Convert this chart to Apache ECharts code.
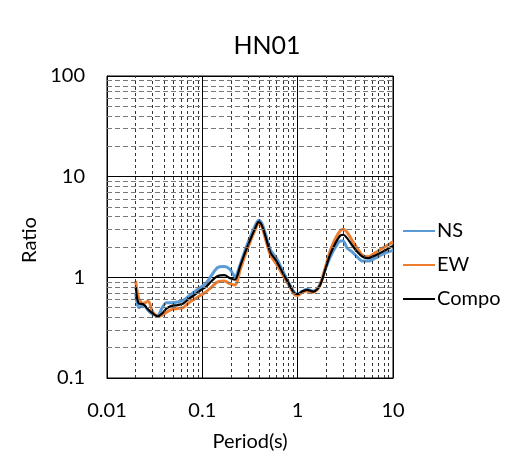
<!DOCTYPE html>
<html>
<head>
<meta charset="utf-8">
<script src="https://cdn.jsdelivr.net/npm/echarts@6/dist/echarts.min.js"></script>
<style>
  html, body { margin: 0; padding: 0; background: #fff; }
  #chart { width: 510px; height: 457px; }
</style>
</head>
<body>
<div id="chart"></div>
<script>
// periods (s) shared by the three curves
const periods = [0.020, 0.0215, 0.024, 0.027, 0.030, 0.034, 0.038, 0.042, 0.048, 0.055,
  0.063, 0.072, 0.083, 0.095, 0.11, 0.125, 0.145, 0.17, 0.195, 0.22,
  0.25, 0.28, 0.32, 0.36, 0.39, 0.42, 0.46, 0.52, 0.6, 0.7,
  0.8, 0.92, 1.0, 1.1, 1.25, 1.45, 1.7, 1.95, 2.2, 2.5,
  2.8, 3.0, 3.3, 3.7, 4.2, 4.8, 5.5, 6.5, 7.8, 10];

const nsRatio = [0.68, 0.50, 0.53, 0.47, 0.43, 0.42, 0.50, 0.56, 0.56, 0.57,
  0.59, 0.65, 0.72, 0.79, 0.88, 1.05, 1.25, 1.28, 1.20, 1.02,
  1.35, 1.85, 2.55, 3.3, 3.7, 3.45, 2.7, 1.85, 1.55, 1.15,
  0.90, 0.71, 0.68, 0.72, 0.76, 0.73, 0.84, 1.2, 1.6, 2.0,
  2.3, 2.3, 1.95, 1.8, 1.6, 1.45, 1.45, 1.55, 1.7, 1.85];

const ewRatio = [0.92, 0.62, 0.55, 0.58, 0.46, 0.41, 0.42, 0.45, 0.48, 0.49,
  0.50, 0.56, 0.61, 0.66, 0.72, 0.80, 0.90, 0.92, 0.86, 0.84,
  1.2, 1.65, 2.3, 3.0, 3.45, 3.2, 2.4, 1.65, 1.35, 1.05,
  0.85, 0.68, 0.66, 0.70, 0.73, 0.71, 0.82, 1.25, 1.85, 2.45,
  2.9, 3.0, 2.8, 2.35, 1.95, 1.65, 1.6, 1.75, 1.95, 2.25];

const compoRatio = [0.80, 0.55, 0.54, 0.48, 0.44, 0.41, 0.44, 0.49, 0.52, 0.53,
  0.55, 0.61, 0.67, 0.74, 0.81, 0.92, 1.03, 1.05, 0.98, 0.95,
  1.30, 1.75, 2.4, 3.1, 3.55, 3.3, 2.55, 1.75, 1.45, 1.1,
  0.88, 0.70, 0.68, 0.72, 0.75, 0.72, 0.82, 1.2, 1.7, 2.2,
  2.6, 2.65, 2.45, 2.1, 1.8, 1.6, 1.55, 1.65, 1.8, 2.05];

// minor grid positions (2..9 in each decade)
const minorX = [];
[0.01, 0.1, 1].forEach(d => { for (let k = 2; k <= 9; k++) minorX.push(+(d * k).toPrecision(2)); });
const minorY = [];
[0.1, 1, 10].forEach(d => { for (let k = 2; k <= 9; k++) minorY.push(+(d * k).toPrecision(2)); });

const font = 'Lato';

function pairs(vals) {
  return periods.map((p, i) => [p, vals[i]]);
}

let chart = echarts.init(document.getElementById('chart'));

let option = {
  backgroundColor: '#fff',
  animation: false,
  title: {
    text: 'HN01',
    left: 262,
    top: 28,
    textAlign: 'center',
    textStyle: { fontFamily: font, fontSize: 25, fontWeight: 'normal', color: '#000' }
  },
  legend: {
    orient: 'vertical',
    left: 398,
    top: 216,
    itemGap: 14,
    icon: 'rect',
    itemWidth: 32,
    itemHeight: 2,
    textStyle: { fontFamily: font, fontSize: 20, color: '#000', padding: [0, 0, 0, -3] },
    data: ['NS', 'EW', 'Compo']
  },
  grid: {
    left: 107,
    right: 117,
    top: 76,
    bottom: 78,
    show: true,
    borderColor: '#000',
    borderWidth: 1
  },
  xAxis: {
    type: 'log',
    logBase: 10,
    min: 0.01,
    max: 10,
    name: 'Period(s)',
    nameLocation: 'middle',
    nameGap: 54,
    nameTextStyle: { fontFamily: font, fontSize: 20, color: '#000' },
    axisLine: { lineStyle: { color: '#000', width: 1 } },
    axisTick: { show: false },
    axisLabel: {
      fontFamily: font, fontSize: 20, color: '#000', margin: 23,
      formatter: v => String(v)
    },
    splitLine: { lineStyle: { color: '#000', width: 1 } }
  },
  yAxis: {
    type: 'log',
    logBase: 10,
    min: 0.1,
    max: 100,
    name: 'Ratio',
    nameLocation: 'middle',
    nameGap: 64,
    nameTextStyle: { fontFamily: font, fontSize: 20, color: '#000', padding: [0, 26, 0, 0] },
    axisLine: { show: true, lineStyle: { color: '#000', width: 1 } },
    axisTick: { show: false },
    axisLabel: {
      fontFamily: font, fontSize: 20, color: '#000', margin: 22,
      formatter: v => String(v)
    },
    splitLine: { lineStyle: { color: '#000', width: 1 } }
  },
  series: [
    {
      name: 'grid-minor',
      type: 'line',
      data: [],
      silent: true,
      markLine: {
        silent: true,
        symbol: ['none', 'none'],
        label: { show: false },
        animation: false,
        data: minorX.map(v => ({ xAxis: v, lineStyle: { color: '#333', width: 1, type: [3, 3] } }))
          .concat(minorY.map(v => ({ yAxis: v, lineStyle: { color: '#777', width: 1, type: [5, 3] } })))
      }
    },
    {
      name: 'NS',
      type: 'line',
      smooth: 0.3,
      showSymbol: false,
      color: '#5B9BD5',
      lineStyle: { width: 3 },
      data: pairs(nsRatio)
    },
    {
      name: 'EW',
      type: 'line',
      smooth: 0.3,
      showSymbol: false,
      color: '#ED7D31',
      lineStyle: { width: 3 },
      data: pairs(ewRatio)
    },
    {
      name: 'Compo',
      type: 'line',
      smooth: 0.3,
      showSymbol: false,
      color: '#000',
      lineStyle: { width: 2.2 },
      data: pairs(compoRatio)
    }
  ]
};

chart.setOption(option);
</script>
</body>
</html>
